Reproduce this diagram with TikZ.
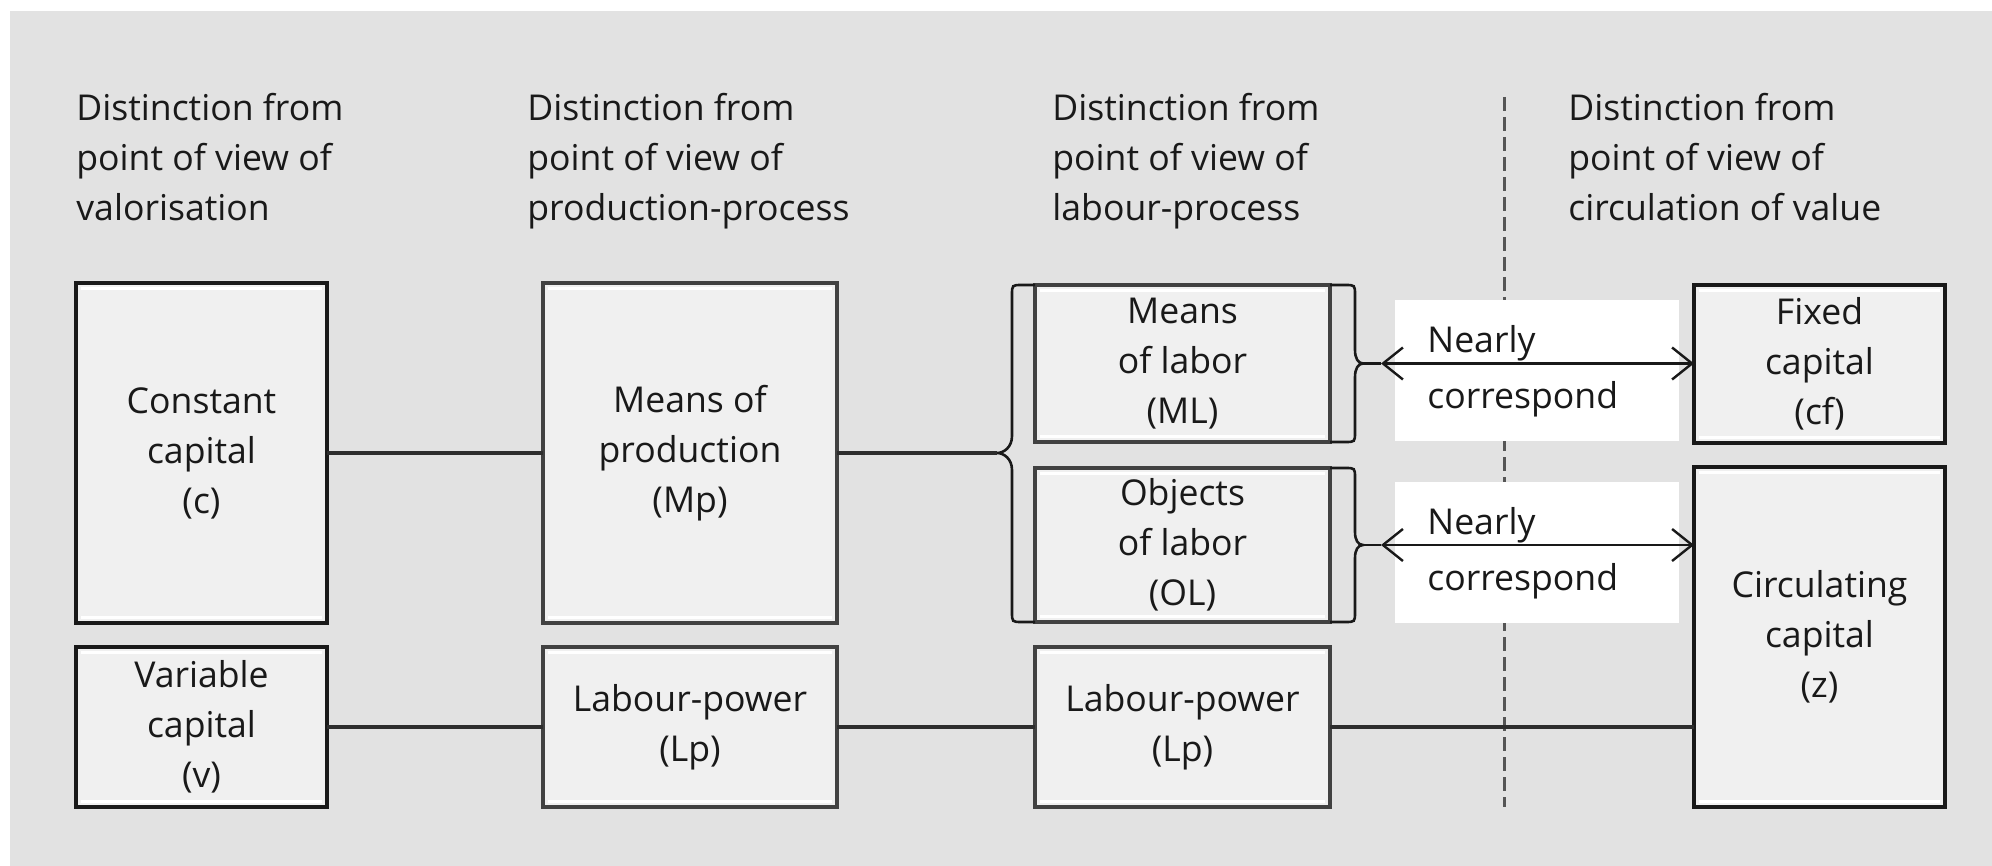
\documentclass[tikz,border=0pt]{standalone}
\usepackage{fontspec}
\setmainfont{Open Sans}
\usetikzlibrary{arrows.meta,calc}
\definecolor{bg}{RGB}{226,226,226}
\definecolor{boxfill}{RGB}{240,240,240}
\definecolor{dark}{RGB}{25,25,25}
\definecolor{midgray}{RGB}{65,65,65}
\definecolor{linecol}{RGB}{45,45,45}
\definecolor{dashcol}{RGB}{85,85,85}
\definecolor{txt}{RGB}{25,25,25}
\tikzset{
  box/.style={draw=dark, line width=2pt, fill=boxfill, inner sep=0pt, outer sep=0pt, align=center, text=txt,
    path picture={\draw[white, line width=1.2pt]
      ([shift={(2.5pt,-2.8pt)}]path picture bounding box.north west) -- ([shift={(-2.5pt,-2.8pt)}]path picture bounding box.north east)
      ([shift={(2.5pt,2.8pt)}]path picture bounding box.south west) -- ([shift={(-2.5pt,2.8pt)}]path picture bounding box.south east);}},
  softbox/.style={box, draw=midgray},
  head/.style={anchor=north west, align=left, inner sep=0pt, text=txt},
  conn/.style={line width=1.8pt, draw=linecol},
  bracepath/.style={line width=1.3pt, draw=dark},
  corrbox/.style={fill=white, anchor=north west, align=left, inner ysep=0pt, inner xsep=16pt, text width=110pt, minimum height=70.5pt, text=txt},
  barb/.style={line width=1.2pt, draw=dark, {Straight Barb[length=10pt,width=16pt,line width=1.2pt]}-{Straight Barb[length=10pt,width=16pt,line width=1.2pt]}},
  divider/.style={line width=1.5pt, draw=dashcol, dash pattern=on 7pt off 3pt}
}
\begin{document}
\begin{tikzpicture}[x=0.5pt, y=-0.5pt, font=\fontsize{17.8}{25}\selectfont]
\useasboundingbox (0,0) rectangle (1992,866);
\fill[white] (0,0) rectangle (1992,866);
\fill[bg] (10,11) rectangle (1992,866);

% headings
\node[head] (h1) at (76,93) {Distinction from\\point of view of\\valorisation};
\node[head] (h2) at (527,93) {Distinction from\\point of view of\\production-process};
\node[head] (h3) at (1052,93) {Distinction from\\point of view of\\labour-process};
\node[head] (h4) at (1568,93) {Distinction from\\point of view of\\circulation of value};

% divider
\draw[divider] (1504,97) coordinate (dtop) -- (1504,807) coordinate (dbot);

% boxes
\node[box, minimum width=125.5pt, minimum height=170pt] (c) at (201.5,453) {Constant\\capital\\(c)};
\node[box, minimum width=125.5pt, minimum height=80pt] (v) at (201.5,727) {Variable\\capital\\(v)};
\node[softbox, minimum width=147pt, minimum height=170pt] (mp) at (690,453) {Means of\\production\\(Mp)};
\node[softbox, minimum width=147pt, minimum height=80pt] (lp1) at (690,727) {Labour-power\\(Lp)};
\node[box, draw=midgray, minimum width=147.5pt, minimum height=78.5pt] (ml) at (1182.5,363.5) {Means\\of labor\\(ML)};
\node[box, draw=midgray, minimum width=147.5pt, minimum height=77pt] (ol) at (1182.5,545) {Objects\\of labor\\(OL)};
\node[softbox, minimum width=147.5pt, minimum height=80pt] (lp2) at (1182.5,727) {Labour-power\\(Lp)};
\node[box, minimum width=125.5pt, minimum height=79pt] (fc) at (1819.5,364) {Fixed\\capital\\(cf)};
\node[box, minimum width=125.5pt, minimum height=170pt] (cc) at (1819.5,637) {Circulating\\capital\\(z)};

% white label boxes
\node[corrbox] (n1) at (1395,300) {Nearly\\[3pt]correspond};
\node[corrbox] (n2) at (1395,482) {Nearly\\[3pt]correspond};

% braces
\coordinate (btip) at (997,453);
\coordinate (mltip) at (1363,363.5);
\coordinate (oltip) at (1363,545);
\coordinate (mla) at (1381,363.5);
\coordinate (ola) at (1381,545);
\draw[bracepath] (ml.north west) -- (1022,285) .. controls (1012,285) .. (1012,295) -- (1012,436)
  .. controls (1012,447) and (1004,453) .. (btip)
  .. controls (1004,453) and (1012,459) .. (1012,470) -- (1012,612)
  .. controls (1012,622) .. (1022,622) -- (ol.south west);
\draw[bracepath] (ml.north east) -- (1345,285) .. controls (1355,285) .. (1355,295) -- (1355,350)
  .. controls (1355,358) and (1358,363.5) .. (mltip)
  .. controls (1358,363.5) and (1355,369) .. (1355,377) -- (1355,432)
  .. controls (1355,442) .. (1345,442) -- (ml.south east);
\draw[bracepath] (ol.north east) -- (1345,468) .. controls (1355,468) .. (1355,478) -- (1355,532)
  .. controls (1355,540) and (1358,545) .. (oltip)
  .. controls (1358,545) and (1355,550) .. (1355,558) -- (1355,612)
  .. controls (1355,622) .. (1345,622) -- (ol.south east);

% connectors
\draw[conn] (c.east) -- (mp.west);
\draw[conn] (v.east) -- (lp1.west);
\draw[conn] (mp.east) -- (btip);
\draw[conn] (lp1.east) -- (lp2.west);
\draw[conn] (lp2.east) -- (lp2.east -| cc.west);

% arrows
\draw[line width=1.2pt, draw=dark] (mltip) -- (mla);
\draw[barb] (mla) -- (mla -| fc.west);
\draw[line width=1.2pt, draw=dark] (oltip) -- (ola);
\draw[barb] (ola) -- (ola -| cc.west);
\end{tikzpicture}
\end{document}
